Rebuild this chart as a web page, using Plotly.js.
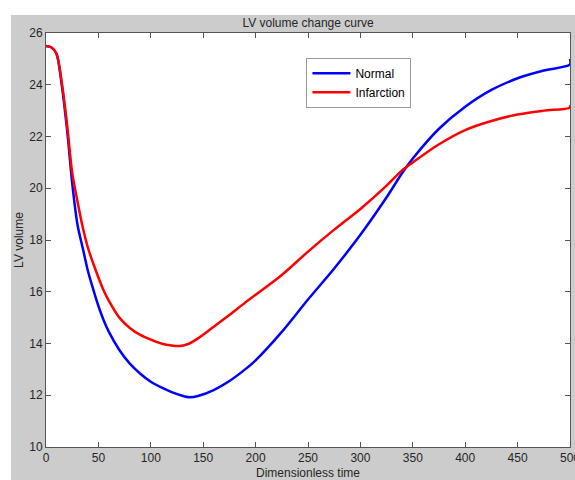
<!DOCTYPE html>
<html>
<head>
<meta charset="utf-8">
<script src="https://cdn.plot.ly/plotly-3.0.1.min.js"></script>
<style>
html, body { margin: 0; padding: 0; background: #ffffff; width: 575px; height: 480px; overflow: hidden; }
#chart { position: absolute; left: 11px; top: 15px; width: 600px; height: 465px; }
</style>
</head>
<body>
<div id="chart"></div>
<script>
const timeNormal = [0, 5, 10, 15, 20, 25, 30, 35, 40, 45, 50, 55, 60, 70, 80, 90, 100, 110, 120, 130, 137, 145, 160, 175, 190, 200, 225, 250, 275, 300, 325, 340, 350, 375, 400, 425, 450, 475, 500, 500];
const volumeNormal = [25.5, 25.45, 25.2, 24.0, 22.3, 20.2, 18.6, 17.7, 16.8, 16.1, 15.45, 14.9, 14.45, 13.75, 13.22, 12.83, 12.52, 12.3, 12.12, 11.98, 11.92, 11.97, 12.2, 12.55, 13.0, 13.35, 14.45, 15.7, 16.9, 18.2, 19.65, 20.6, 21.15, 22.3, 23.15, 23.8, 24.25, 24.55, 24.78, 25.0];

const timeInfarct = [0, 5, 10, 15, 20, 25, 30, 35, 40, 45, 50, 55, 60, 70, 80, 90, 100, 110, 120, 127, 135, 145, 160, 175, 190, 200, 225, 250, 275, 300, 325, 340, 350, 375, 400, 425, 450, 475, 500, 500];
const volumeInfarct = [25.5, 25.45, 25.2, 24.1, 22.5, 20.6, 19.5, 18.5, 17.7, 17.1, 16.55, 16.05, 15.65, 15.0, 14.6, 14.33, 14.15, 14.0, 13.92, 13.9, 13.97, 14.2, 14.65, 15.1, 15.58, 15.88, 16.65, 17.55, 18.4, 19.2, 20.1, 20.7, 21.0, 21.7, 22.25, 22.6, 22.85, 23.0, 23.12, 23.22];

const seriesNames = ["Normal", "Infarction"];
const xTicks = [0, 50, 100, 150, 200, 250, 300, 350, 400, 450, 500];
const yTicks = [10, 12, 14, 16, 18, 20, 22, 24, 26];

const fontFam = "'Liberation Sans', Arial, Helvetica, sans-serif";
const textCol = "#262626";

const traces = [
  { x: timeNormal, y: volumeNormal, name: seriesNames[0], type: "scatter", mode: "lines",
    line: { color: "#0000ff", width: 2.5, shape: "spline", smoothing: 0.8 } },
  { x: timeInfarct, y: volumeInfarct, name: seriesNames[1], type: "scatter", mode: "lines",
    line: { color: "#ff0000", width: 2.5, shape: "spline", smoothing: 0.8 } }
];

const axisCommon = {
  showgrid: false, zeroline: false, showline: true, linecolor: "#555", linewidth: 1,
  mirror: "ticks", ticks: "inside", ticklen: 5, tickcolor: "#555", tickwidth: 1,
  tickfont: { family: fontFam, size: 12, color: textCol }, automargin: false,
  ticklabeloverflow: "allow"
};

const layout = {
  width: 600, height: 465,
  paper_bgcolor: "#cccccc", plot_bgcolor: "#ffffff",
  margin: { l: 35, r: 41, t: 18, b: 33 },
  showlegend: true,
  title: { text: "LV volume change curve", font: { family: fontFam, size: 12, color: textCol },
    x: 0.5, xref: "paper", y: 1 - 7.5 / 465, yref: "container", yanchor: "middle" },
  xaxis: Object.assign({}, axisCommon, {
    range: [0, 500], tickvals: xTicks, ticktext: xTicks.map(String),
    title: { text: "Dimensionless time", font: { family: fontFam, size: 12, color: textCol }, standoff: 5 }
  }),
  yaxis: Object.assign({}, axisCommon, {
    range: [10, 26], tickvals: yTicks, ticktext: yTicks.map(String),
    title: { text: "LV volume", font: { family: fontFam, size: 12, color: textCol }, standoff: 3 }
  }),
  legend: {
    x: 0.497, y: 0.94, xanchor: "left", yanchor: "top",
    bgcolor: "#ffffff", bordercolor: "#999", borderwidth: 1,
    font: { family: fontFam, size: 12, color: "#000" },
    tracegroupgap: 0, itemwidth: 38
  }
};

Plotly.newPlot("chart", traces, layout, { displayModeBar: false, staticPlot: true });
</script>
</body>
</html>
